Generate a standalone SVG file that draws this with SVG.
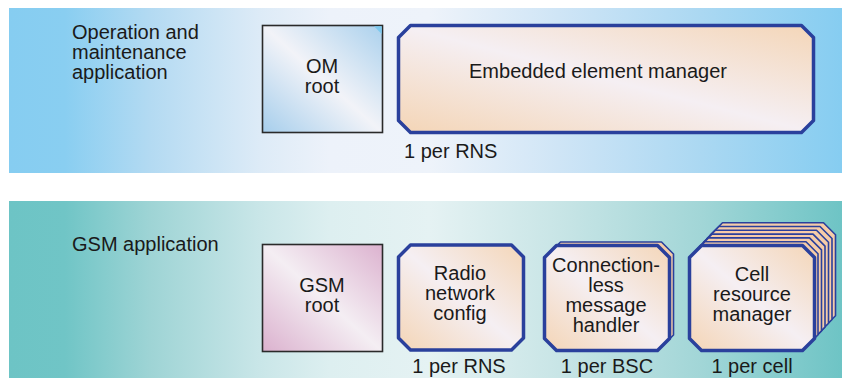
<svg xmlns="http://www.w3.org/2000/svg" width="842" height="378" viewBox="0 0 842 378">
  <style>
    text { font-family: "Liberation Sans", Arial, Helvetica, sans-serif; font-size: 20px; fill: #1a1a1a; }
    .c { text-anchor: middle; }
    .oct { fill: url(#peach); stroke: #2A409C; stroke-width: 3.5; stroke-linejoin: round; }
    .back { fill: #F6CCA8; stroke: #2A409C; stroke-width: 1.6; stroke-linejoin: round; }
    .root { stroke: #2a2a2a; stroke-width: 1.6; }
  </style>
  <defs>
    <linearGradient id="bgTop" gradientUnits="userSpaceOnUse" x1="9" y1="0" x2="842" y2="0">
      <stop offset="0" stop-color="#86CDF1"/>
      <stop offset="0.067" stop-color="#89CEF1"/>
      <stop offset="0.169" stop-color="#B3DAF2"/>
      <stop offset="0.301" stop-color="#DDEBF7"/>
      <stop offset="0.385" stop-color="#EDF2FA"/>
      <stop offset="0.505" stop-color="#EEF3FA"/>
      <stop offset="0.661" stop-color="#CFE5F6"/>
      <stop offset="0.83" stop-color="#ABD8F2"/>
      <stop offset="1" stop-color="#86CDF1"/>
    </linearGradient>
    <linearGradient id="bgBot" gradientUnits="userSpaceOnUse" x1="9" y1="0" x2="842" y2="0">
      <stop offset="0" stop-color="#6DC4C5"/>
      <stop offset="0.067" stop-color="#70C5C6"/>
      <stop offset="0.169" stop-color="#9ED4D5"/>
      <stop offset="0.301" stop-color="#C9E6E8"/>
      <stop offset="0.385" stop-color="#DDEFF0"/>
      <stop offset="0.505" stop-color="#E5F2F3"/>
      <stop offset="0.661" stop-color="#C8E5E6"/>
      <stop offset="0.83" stop-color="#A2D6D7"/>
      <stop offset="1" stop-color="#6EC4C5"/>
    </linearGradient>
    <linearGradient id="blueBox" x1="0" y1="1" x2="1" y2="0">
      <stop offset="0" stop-color="#A6CEEC"/>
      <stop offset="0.5" stop-color="#F2F3F8"/>
      <stop offset="1" stop-color="#ABD1ED"/>
    </linearGradient>
    <linearGradient id="pinkBox" x1="0" y1="1" x2="1" y2="0">
      <stop offset="0" stop-color="#DBB1CE"/>
      <stop offset="0.5" stop-color="#F4EEF3"/>
      <stop offset="1" stop-color="#DCB2CF"/>
    </linearGradient>
    <linearGradient id="peach" x1="0" y1="1" x2="1" y2="0">
      <stop offset="0" stop-color="#F4D5B6"/>
      <stop offset="0.5" stop-color="#F5EFF3"/>
      <stop offset="1" stop-color="#F4D6B8"/>
    </linearGradient>
    <polygon id="smallOct" points="12,0 113,0 125,12 125,93 113,105 12,105 0,93 0,12"/>
  </defs>

  <g id="panel-om">
    <rect x="9" y="8" width="833" height="165" fill="url(#bgTop)"/>
    <text x="72" y="39">Operation and</text>
    <text x="72" y="59">maintenance</text>
    <text x="72" y="79">application</text>
  </g>

  <g id="panel-gsm">
    <rect x="9" y="201" width="833" height="177" fill="url(#bgBot)"/>
    <text x="72" y="251">GSM application</text>
  </g>

  <g id="connectors"/>

  <g id="om-root">
    <rect class="root" x="262.5" y="25.5" width="120" height="107" fill="url(#blueBox)"/>
    <polygon points="374,26.3 381.7,26.3 381.7,34" fill="#7CC8EE"/>
    <text class="c" x="322" y="73">OM</text>
    <text class="c" x="322" y="93">root</text>
  </g>

  <g id="embedded-element-manager">
    <polygon class="oct" points="410.5,25.5 801.5,25.5 813.5,37.5 813.5,120.5 801.5,132.5 410.5,132.5 398.5,120.5 398.5,37.5"/>
    <text class="c" x="598" y="78">Embedded element manager</text>
    <text x="404" y="158">1 per RNS</text>
  </g>

  <g id="gsm-root">
    <rect class="root" x="262.5" y="244.5" width="120" height="107" fill="url(#pinkBox)"/>
    <text class="c" x="322" y="292">GSM</text>
    <text class="c" x="322" y="312">root</text>
  </g>

  <g id="radio-network-config">
    <use href="#smallOct" class="oct" x="398.5" y="245"/>
    <text class="c" x="460" y="280">Radio</text>
    <text class="c" x="460" y="300">network</text>
    <text class="c" x="460" y="320">config</text>
    <text class="c" x="459" y="373">1 per RNS</text>
  </g>

  <g id="connectionless-message-handler">
    <use href="#smallOct" class="back" x="548.5" y="242"/>
    <use href="#smallOct" class="oct" x="544.5" y="245.5"/>
    <text class="c" x="606" y="272">Connection-</text>
    <text class="c" x="606" y="292">less</text>
    <text class="c" x="606" y="312">message</text>
    <text class="c" x="606" y="332">handler</text>
    <text class="c" x="607" y="373">1 per BSC</text>
  </g>

  <g id="cell-resource-manager">
    <use href="#smallOct" class="back" x="710.5" y="222.7"/>
    <use href="#smallOct" class="back" x="707" y="226.5"/>
    <use href="#smallOct" class="back" x="703.5" y="230.3"/>
    <use href="#smallOct" class="back" x="700" y="234.1"/>
    <use href="#smallOct" class="back" x="696.5" y="237.9"/>
    <use href="#smallOct" class="back" x="693" y="241.7"/>
    <use href="#smallOct" class="oct" x="689.5" y="245.5"/>
    <text class="c" x="752" y="281">Cell</text>
    <text class="c" x="752" y="301">resource</text>
    <text class="c" x="752" y="321">manager</text>
    <text class="c" x="752" y="373">1 per cell</text>
  </g>
</svg>
